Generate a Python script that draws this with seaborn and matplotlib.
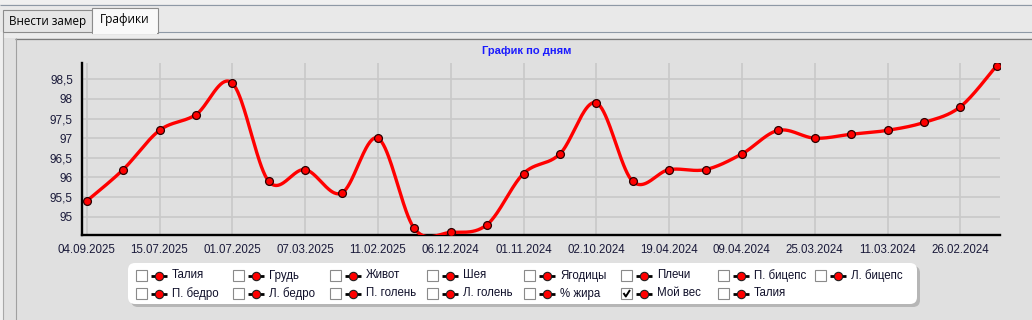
import numpy as np
import pandas as pd
import matplotlib
matplotlib.use("Agg")
import matplotlib.pyplot as plt
import seaborn as sns
from matplotlib.patches import Rectangle, FancyBboxPatch
from matplotlib.ticker import FixedLocator, FuncFormatter

# ---------------- data ----------------
weights = [95.4, 96.2, 97.2, 97.6, 98.4, 95.9, 96.2, 95.6, 97.0, 94.7,
           94.6, 94.8, 96.1, 96.6, 97.9, 95.9, 96.2, 96.2, 96.6, 97.2,
           97.0, 97.1, 97.2, 97.4, 97.8, 98.85]
date_labels = ["04.09.2025", "15.07.2025", "01.07.2025", "07.03.2025",
               "11.02.2025", "06.12.2024", "01.11.2024", "02.10.2024",
               "19.04.2024", "09.04.2024", "25.03.2024", "11.03.2024",
               "26.02.2024"]
y_ticks = [95, 95.5, 96, 96.5, 97, 97.5, 98, 98.5]
legend_row1 = ["Талия", "Грудь", "Живот", "Шея", "Ягодицы", "Плечи",
               "П. бицепс", "Л. бицепс"]
legend_row2 = ["П. бедро", "Л. бедро", "П. голень", "Л. голень", "% жира",
               "Мой вес", "Талия"]
checked = "Мой вес"
title = "График по дням"
tabs = ["Внести замер", "Графики"]

# ---------------- style ----------------
sns.set_style("white")
plt.rcParams["font.family"] = ["Liberation Sans", "DejaVu Sans"]

W, H = 1032, 320
fig = plt.figure(figsize=(W / 100, H / 100), dpi=100)
fig.patch.set_facecolor("#e0e0e0")

# background / window chrome axes in pixel coordinates
bg = fig.add_axes([0, 0, 1, 1], zorder=0)
bg.set_xlim(0, W)
bg.set_ylim(H, 0)
bg.axis("off")

def rect(x0, y0, x1, y1, fc, ec="none", lw=0, z=1):
    bg.add_patch(Rectangle((x0, y0), x1 - x0, y1 - y0, facecolor=fc,
                           edgecolor=ec, linewidth=lw, zorder=z))

def hline(y, x0, x1, c, lw=1.0, z=2):
    bg.plot([x0, x1], [y, y], color=c, lw=lw, zorder=z, solid_capstyle="butt")

def vline(x, y0, y1, c, lw=1.0, z=2):
    bg.plot([x, x], [y0, y1], color=c, lw=lw, zorder=z, solid_capstyle="butt")

rect(0, 0, W, 4, "#f0f0f0")
rect(0, 4, W, 32, "#e9e9e9")
rect(0, 32, W, 38, "#ececec")
rect(0, 32, 3, H, "#f0f0f0")
rect(3, 38, W, H, "#e0e0e0")
hline(4.5, 0, W, "#8e99a6", 0.8)
hline(32, 158, W, "#8e99a6", 0.8)
hline(38.5, 15, W, "#7a7a7a", 0.9)
vline(3, 32, H, "#a8a8a8", 0.8)
vline(15.5, 38, H, "#a0a0a0", 0.8)

# tabs
rect(3, 10, 92, 32, "#e6e6e6", ec="#8c8c8c", lw=0.8, z=3)
rect(92, 7.5, 158, 32.5, "#f9f9f9", ec="#8c8c8c", lw=0.8, z=4)
rect(92.6, 31, 157.4, 34, "#f9f9f9", z=5)
bg.text(48, 21.5, tabs[0], ha="center", va="center", fontsize=8.4,
        family=["Open Sans", "DejaVu Sans"], color="#000000", zorder=6)
bg.text(125, 19.5, tabs[1], ha="center", va="center", fontsize=8.6,
        family=["Open Sans", "DejaVu Sans"], color="#000000", zorder=6)

# title
bg.text(527, 50.5, title, ha="center", va="center", fontsize=8.0,
        fontweight="bold", color="#1a1aff", zorder=6)

# legend box
shadow = FancyBboxPatch((131, 266), 789, 41,
                        boxstyle="round,pad=0,rounding_size=7",
                        facecolor="#9a9a9a", edgecolor="none", alpha=0.6, zorder=3)
bg.add_patch(shadow)
box = FancyBboxPatch((128, 263), 789, 41,
                     boxstyle="round,pad=0,rounding_size=7",
                     facecolor="#ffffff", edgecolor="none", zorder=4)
bg.add_patch(box)

def legend_item(cx, cy, label, is_checked):
    rect(cx, cy - 5.5, cx + 11, cy + 5.5, "#ffffff", ec="#8a8a8a", lw=0.8, z=5)
    if is_checked:
        bg.plot([cx + 2.5, cx + 4.8, cx + 9], [cy - 0.5, cy + 3, cy - 3.5],
                color="#000000", lw=1.4, zorder=6, solid_capstyle="butt")
    hline(cy, cx + 15, cx + 31, "#000000", 2.0, z=6)
    bg.scatter([cx + 23], [cy], s=36, color="#ff0000",
               edgecolors="#202020", linewidths=0.8, zorder=7)
    bg.text(cx + 36, cy, label, ha="left", va="center", fontsize=8.3,
            color="#10102a", zorder=7)

for k, lab in enumerate(legend_row1):
    legend_item(136 + 97 * k, 275.5, lab, False)
for k, lab in enumerate(legend_row2):
    legend_item(136 + 97 * k, 293.5, lab, lab == checked)

# ---------------- chart axes ----------------
L, R, T, B = 82, 1000, 63, 235
ax = fig.add_axes([L / W, 1 - B / H, (R - L) / W, (B - T) / H], zorder=2)
ax.patch.set_alpha(0)

idx = np.arange(len(weights))

# Catmull-Rom rendering of the curve through the points
def catmull_rom(xs, ys, n=40):
    P = np.column_stack([xs, ys]).astype(float)
    Pe = np.vstack([P[0], P, P[-1]])
    pts = []
    for i in range(len(P) - 1):
        p0, p1, p2, p3 = Pe[i], Pe[i + 1], Pe[i + 2], Pe[i + 3]
        m1 = (p2 - p0) / 2.0
        m2 = (p3 - p1) / 2.0
        t = np.linspace(0, 1, n, endpoint=(i == len(P) - 2))[:, None]
        h00 = 2 * t**3 - 3 * t**2 + 1
        h10 = t**3 - 2 * t**2 + t
        h01 = -2 * t**3 + 3 * t**2
        h11 = t**3 - t**2
        pts.append(h00 * p1 + h10 * m1 + h01 * p2 + h11 * m2)
    return np.vstack(pts)

curve = catmull_rom(idx, weights)
df_curve = pd.DataFrame({"x": curve[:, 0], "y": curve[:, 1]})
df_pts = pd.DataFrame({"x": idx, "y": weights})

sns.lineplot(data=df_curve, x="x", y="y", sort=False, estimator=None,
             color="#ff0000", linewidth=2.4, ax=ax, zorder=3)
sns.scatterplot(data=df_pts, x="x", y="y", s=32, color="#ff0000",
                edgecolor="#2a0000", linewidth=0.9, ax=ax, zorder=4)

ax.set_xlim(-0.13, 25.09)
ax.set_ylim(94.534, 98.915)

ax.xaxis.set_major_locator(FixedLocator(list(range(0, len(weights), 2))))
ax.xaxis.set_minor_locator(FixedLocator(list(range(1, len(weights), 2))))
ax.set_xticklabels(date_labels)
ax.yaxis.set_major_locator(FixedLocator(y_ticks))
ax.yaxis.set_minor_locator(FixedLocator([round(94.6 + 0.1 * i, 1) for i in range(44)]))
ax.yaxis.set_major_formatter(FuncFormatter(
    lambda v, p: (("%g" % v).replace(".", ","))))

ax.grid(True, which="major", color="#c9c9c9", linewidth=1.2)
ax.set_axisbelow(True)
for s in ["top", "right"]:
    ax.spines[s].set_visible(False)
for s in ["left", "bottom"]:
    ax.spines[s].set_color("#000000")
    ax.spines[s].set_linewidth(1.7)

ax.tick_params(axis="x", which="both", length=2.5, width=0.8, color="#9a9a9a",
               direction="out", pad=4, labelsize=8.3, labelcolor="#1a1a3a")
ax.tick_params(axis="y", which="major", length=2.0, width=0.8, color="#8a8a8a",
               pad=4.5, labelsize=8.5, labelcolor="#1a1a3a")
ax.tick_params(axis="y", which="minor", length=2.0, width=0.8, color="#8a8a8a")
ax.set_xlabel("")
ax.set_ylabel("")

fig.savefig("out.png", dpi=100, facecolor=fig.get_facecolor())
